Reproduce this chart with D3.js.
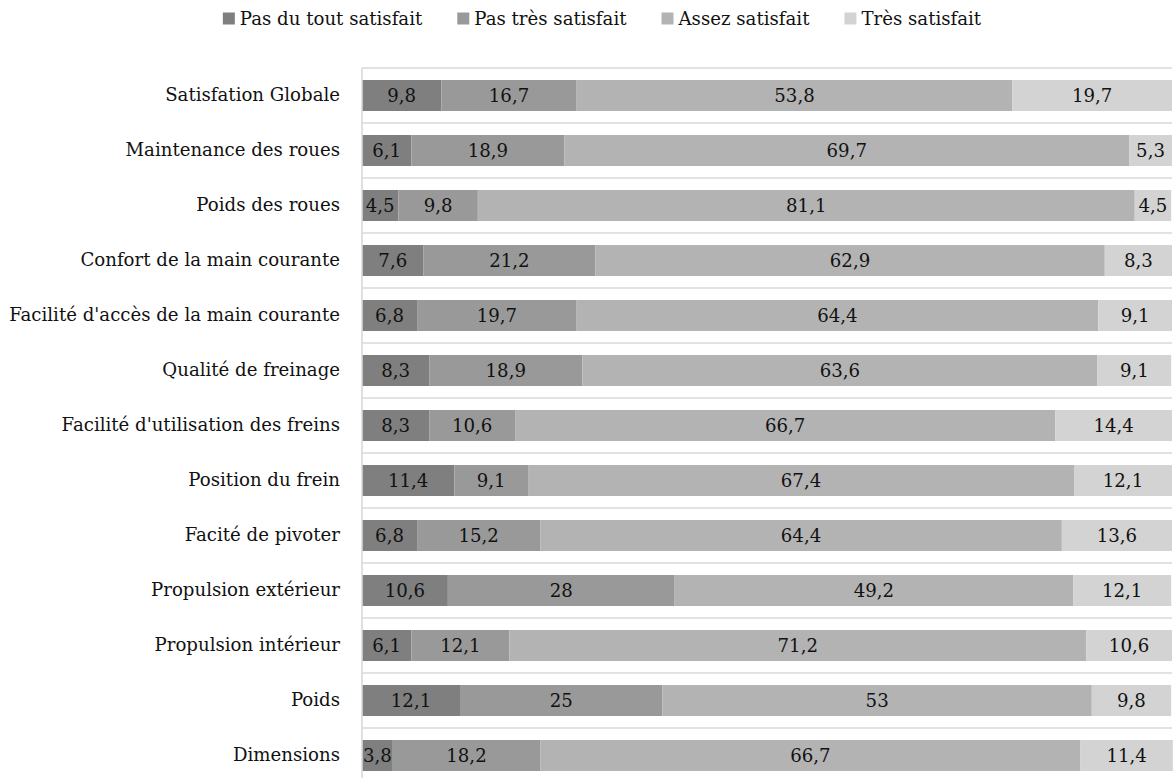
<!DOCTYPE html>
<html>
<head>
<meta charset="utf-8">
<script src="https://cdn.jsdelivr.net/npm/d3@7"></script>
<style>
  html, body { margin: 0; padding: 0; background: #fff; }
  svg { display: block; }
  text { font-family: "DejaVu Serif", "Liberation Serif", serif; fill: #111; }
</style>
</head>
<body>
<svg id="chart" width="1173" height="778"></svg>
<script>
const categories = [
  "Satisfation Globale",
  "Maintenance des roues",
  "Poids des roues",
  "Confort de la main courante",
  "Facilité d'accès de la main courante",
  "Qualité de freinage",
  "Facilité d'utilisation des freins",
  "Position du frein",
  "Facité de pivoter",
  "Propulsion extérieur",
  "Propulsion intérieur",
  "Poids",
  "Dimensions"
];
const seriesNames = ["Pas du tout satisfait", "Pas très satisfait", "Assez satisfait", "Très satisfait"];
const pasDuTout   = [9.8, 6.1, 4.5, 7.6, 6.8, 8.3, 8.3, 11.4, 6.8, 10.6, 6.1, 12.1, 3.8];
const pasTres     = [16.7, 18.9, 9.8, 21.2, 19.7, 18.9, 10.6, 9.1, 15.2, 28, 12.1, 25, 18.2];
const assez       = [53.8, 69.7, 81.1, 62.9, 64.4, 63.6, 66.7, 67.4, 64.4, 49.2, 71.2, 53, 66.7];
const tres        = [19.7, 5.3, 4.5, 8.3, 9.1, 9.1, 14.4, 12.1, 13.6, 12.1, 10.6, 9.8, 11.4];
const colors = ["#7f7f7f", "#999999", "#b3b3b3", "#d3d3d3"];

const seriesValues = [pasDuTout, pasTres, assez, tres];
const rows = categories.map((c, i) => {
  const r = { cat: c };
  seriesNames.forEach((s, k) => r[s] = seriesValues[k][i]);
  return r;
});
const stacked = d3.stack().keys(seriesNames)(rows);

const svg = d3.select("#chart");

// fit font size so that the longest category label is ~331px wide (as in the reference)
const probe = svg.append("text").style("font-size", "100px").text(categories[4]);
const probeW = probe.node().getComputedTextLength();
probe.remove();
const fontSize = Math.min(19, 100 * 331 / probeW);

const mLeft = 362, mRight = 1172, mTop = 68, step = 55;

const x = d3.scaleLinear().domain([0, 100]).range([mLeft, mRight]);
const p = 24 / 55;
const y = d3.scaleBand().domain(categories)
  .range([mTop, mTop + step * categories.length])
  .paddingInner(p).paddingOuter(p / 2);

// gridlines at band boundaries
const bounds = d3.range(categories.length + 1).map(i => mTop + i * y.step());
svg.append("g").selectAll("line").data(bounds).join("line")
  .attr("x1", mLeft).attr("x2", mRight)
  .attr("y1", d => d).attr("y2", d => d)
  .attr("stroke", "#d9d9d9").attr("stroke-width", 1.6);

// bars
const g = svg.append("g");
stacked.forEach((ser, k) => {
  g.append("g").selectAll("rect").data(ser).join("rect")
    .attr("x", d => x(d[0]))
    .attr("width", d => x(d[1]) - x(d[0]))
    .attr("y", d => y(d.data.cat))
    .attr("height", y.bandwidth())
    .attr("fill", colors[k]);
  g.append("g").selectAll("text").data(ser).join("text")
    .attr("x", d => (x(d[0]) + x(d[1])) / 2)
    .attr("y", d => y(d.data.cat) + y.bandwidth() / 2)
    .attr("dy", "0.35em")
    .attr("text-anchor", "middle")
    .style("font-size", fontSize + "px")
    .text(d => String(d.data[ser.key]).replace(".", ","));
});

// vertical axis line
svg.append("line")
  .attr("x1", mLeft).attr("x2", mLeft)
  .attr("y1", mTop).attr("y2", 778)
  .attr("stroke", "#d9d9d9").attr("stroke-width", 1.6);

// y-axis labels
const yAxis = d3.axisLeft(y).tickSize(0).tickPadding(22);
const ya = svg.append("g").attr("transform", `translate(${mLeft},0)`).call(yAxis);
ya.select(".domain").remove();
ya.selectAll("text")
  .style("font-size", fontSize + "px")
  .style("font-family", '"DejaVu Serif", "Liberation Serif", serif')
  .attr("fill", "#111");

// legend
const legend = svg.append("g");
const items = legend.selectAll("g").data(seriesNames).join("g");
items.append("rect").attr("width", 12).attr("height", 12).attr("y", 12.5)
  .attr("fill", (d, i) => colors[i]);
items.append("text").attr("x", 17).attr("y", 24.5)
  .style("font-size", fontSize + "px").text(d => d);
const widths = [];
items.each(function () {
  const w = d3.select(this).select("text").node().getComputedTextLength();
  widths.push(17 + w);
});
const gap = 35;
const total = d3.sum(widths) + gap * (widths.length - 1);
let start = 602 - total / 2;
items.attr("transform", (d, i) => {
  const t = `translate(${start},0)`;
  start += widths[i] + gap;
  return t;
});
</script>
</body>
</html>
